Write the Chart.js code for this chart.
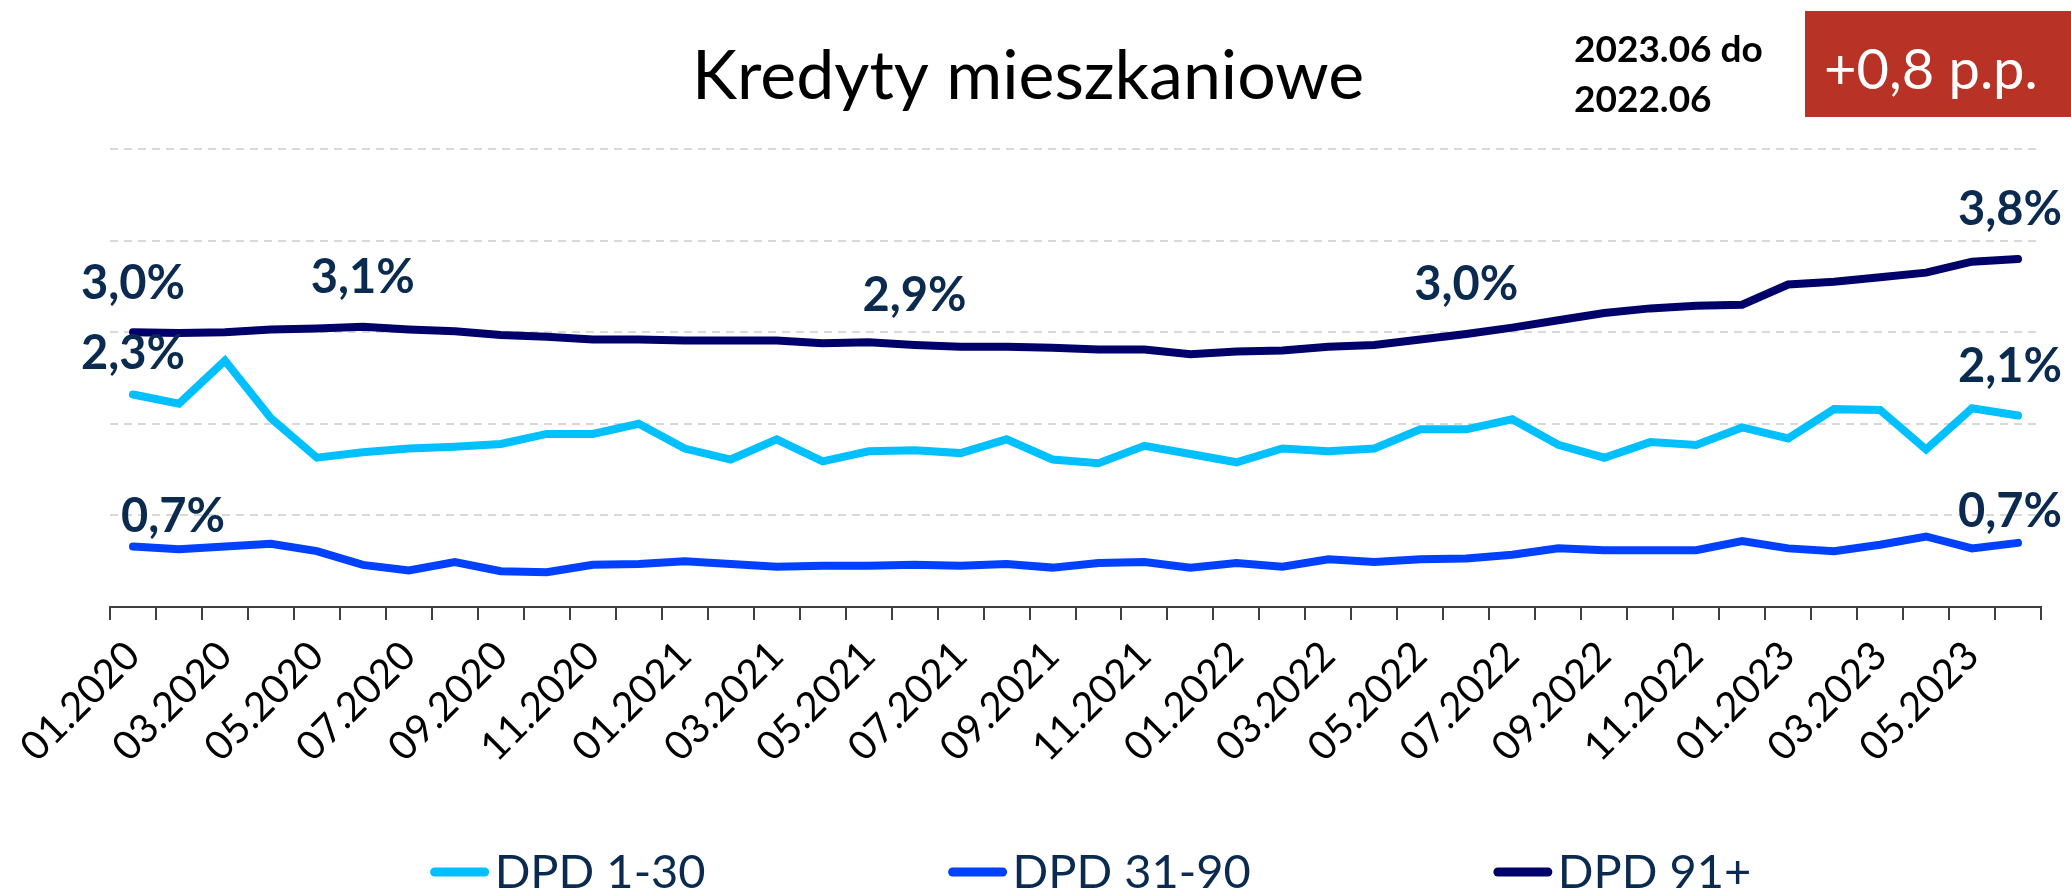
<!DOCTYPE html>
<html lang="pl">
<head>
<meta charset="utf-8">
<title>Kredyty mieszkaniowe</title>
<script src="https://cdn.jsdelivr.net/npm/chart.js@4.4.1/dist/chart.umd.min.js"></script>
<style>
  html, body { margin: 0; padding: 0; background: #ffffff; }
  canvas { display: block; }
</style>
</head>
<body>
<canvas id="chart" width="2071" height="893"></canvas>
<script>
// Monthly categories (x axis)
const months = [
  '01.2020','02.2020','03.2020','04.2020','05.2020','06.2020','07.2020','08.2020','09.2020','10.2020','11.2020','12.2020',
  '01.2021','02.2021','03.2021','04.2021','05.2021','06.2021','07.2021','08.2021','09.2021','10.2021','11.2021','12.2021',
  '01.2022','02.2022','03.2022','04.2022','05.2022','06.2022','07.2022','08.2022','09.2022','10.2022','11.2022','12.2022',
  '01.2023','02.2023','03.2023','04.2023','05.2023','06.2023'
];

// Share of loans by days past due, in %
const dpd1to30 = [
  2.32, 2.22, 2.69, 2.06, 1.63, 1.69, 1.73, 1.75, 1.78, 1.89, 1.89, 2.00,
  1.73, 1.61, 1.83, 1.59, 1.70, 1.71, 1.68, 1.83, 1.61, 1.57, 1.76, 1.67,
  1.58, 1.73, 1.70, 1.73, 1.94, 1.94, 2.05, 1.77, 1.63, 1.80, 1.77, 1.96,
  1.84, 2.16, 2.15, 1.72, 2.17, 2.09
];
const dpd31to90 = [
  0.66, 0.63, 0.66, 0.69, 0.61, 0.46, 0.40, 0.49, 0.39, 0.38, 0.46, 0.47,
  0.50, 0.47, 0.44, 0.45, 0.45, 0.46, 0.45, 0.47, 0.43, 0.48, 0.49, 0.43,
  0.48, 0.44, 0.52, 0.49, 0.52, 0.53, 0.57, 0.64, 0.62, 0.62, 0.62, 0.72,
  0.64, 0.61, 0.68, 0.77, 0.64, 0.70
];
const dpd91plus = [
  3.00, 2.99, 3.00, 3.03, 3.04, 3.06, 3.03, 3.01, 2.97, 2.95, 2.92, 2.92,
  2.91, 2.91, 2.91, 2.88, 2.89, 2.86, 2.84, 2.84, 2.83, 2.81, 2.81, 2.76,
  2.79, 2.80, 2.84, 2.86, 2.92, 2.98, 3.05, 3.13, 3.21, 3.26, 3.29, 3.30,
  3.52, 3.55, 3.60, 3.65, 3.77, 3.80
];

const seriesNames = ['DPD 1-30', 'DPD 31-90', 'DPD 91+'];
const chartTitle = 'Kredyty mieszkaniowe';
const periodLines = ['2023.06 do', '2022.06'];
const compareFrom = '2022.06';
const compareTo = '2023.06';

const COLORS = {
  light: '#00c0ff',
  blue: '#0040ff',
  navy: '#00006a',
  label: '#0b2a50',
  grid: '#d9d9d9',
  axis: '#3f3f3f',
  badge: '#b83226'
};
const FONT = 'Lato, "Open Sans", "DejaVu Sans", sans-serif';

const fmtPct = v => v.toFixed(1).replace('.', ',') + '%';

// Value labels: dataset index, point index, offset of text centre from the point
const valueLabels = [
  { ds: 2, i: 0,  dx: 0,  dy: -48 },
  { ds: 2, i: 5,  dx: 0,  dy: -49 },
  { ds: 2, i: 17, dx: 0,  dy: -49 },
  { ds: 2, i: 29, dx: 0,  dy: -49 },
  { ds: 2, i: 41, dx: -8, dy: -49 },
  { ds: 0, i: 0,  dx: 0,  dy: -41 },
  { ds: 0, i: 41, dx: -8, dy: -49 },
  { ds: 1, i: 0,  dx: 40, dy: -30 },
  { ds: 1, i: 41, dx: -8, dy: -31 }
];

const decorPlugin = {
  id: 'decor',
  afterDatasetsDraw(chart) {
    const ctx = chart.ctx;
    ctx.save();
    ctx.font = 'bold 47px ' + FONT;
    ctx.fillStyle = COLORS.label;
    ctx.textAlign = 'center';
    ctx.textBaseline = 'middle';
    valueLabels.forEach(l => {
      const pt = chart.getDatasetMeta(l.ds).data[l.i];
      const v = chart.data.datasets[l.ds].data[l.i];
      ctx.fillText(fmtPct(v), pt.x + l.dx, pt.y + l.dy);
    });
    ctx.restore();
  },
  afterDraw(chart) {
    const ctx = chart.ctx;
    ctx.save();

    // Title
    ctx.fillStyle = '#000000';
    ctx.textAlign = 'center';
    ctx.textBaseline = 'alphabetic';
    ctx.font = '68px ' + FONT;
    ctx.fillText(chartTitle, 1028, 99);

    // Comparison period
    ctx.textAlign = 'left';
    ctx.font = 'bold 37px ' + FONT;
    ctx.fillText(periodLines[0], 1574, 62);
    ctx.fillText(periodLines[1], 1574, 112);

    // Change badge, computed from the DPD 91+ series
    const iFrom = months.indexOf(compareFrom.split('.').reverse().join('.'));
    const iTo = months.indexOf(compareTo.split('.').reverse().join('.'));
    const diff = dpd91plus[iTo] - dpd91plus[iFrom];
    ctx.fillStyle = COLORS.badge;
    ctx.fillRect(1805, 11, 2071 - 1805, 106);
    ctx.fillStyle = '#ffffff';
    ctx.font = '56px ' + FONT;
    ctx.fillText((diff >= 0 ? '+' : '') + diff.toFixed(1).replace('.', ',') + ' p.p.', 1824, 89);

    // Legend
    ctx.font = '47px ' + FONT;
    const lineW = 58, gapText = 6, gapItem = 243;
    const items = chart.data.datasets.map(ds => ({
      text: ds.label,
      color: ds.borderColor,
      w: lineW + gapText + ctx.measureText(ds.label).width
    }));
    const total = items.reduce((s, it) => s + it.w, 0) + gapItem * (items.length - 1);
    let x = 1091 - total / 2;
    const ly = 872;
    items.forEach(it => {
      ctx.strokeStyle = it.color;
      ctx.lineWidth = 9;
      ctx.lineCap = 'round';
      ctx.beginPath();
      ctx.moveTo(x + 4, ly);
      ctx.lineTo(x + lineW - 4, ly);
      ctx.stroke();
      ctx.fillStyle = COLORS.label;
      ctx.textBaseline = 'alphabetic';
      ctx.fillText(it.text, x + lineW + gapText, 888);
      x += it.w + gapItem;
    });

    ctx.restore();
  }
};

const lineStyle = {
  borderWidth: 8,
  pointRadius: 0,
  pointHoverRadius: 0,
  tension: 0,
  fill: false,
  borderCapStyle: 'round',
  borderJoinStyle: 'miter'
};

new Chart(document.getElementById('chart'), {
  type: 'line',
  data: {
    labels: months,
    datasets: [
      Object.assign({ label: seriesNames[0], data: dpd1to30, borderColor: COLORS.light, backgroundColor: COLORS.light }, lineStyle),
      Object.assign({ label: seriesNames[1], data: dpd31to90, borderColor: COLORS.blue, backgroundColor: COLORS.blue }, lineStyle),
      Object.assign({ label: seriesNames[2], data: dpd91plus, borderColor: COLORS.navy, backgroundColor: COLORS.navy }, lineStyle)
    ]
  },
  options: {
    responsive: false,
    animation: false,
    events: [],
    layout: { padding: { top: 149, right: 30, left: 0, bottom: 0 } },
    plugins: {
      legend: { display: false },
      title: { display: false },
      tooltip: { enabled: false }
    },
    scales: {
      x: {
        offset: true,
        grid: {
          offset: true,
          drawOnChartArea: false,
          drawTicks: true,
          tickLength: 13,
          color: COLORS.axis,
          lineWidth: 2
        },
        border: { display: true, color: COLORS.axis, width: 2 },
        ticks: {
          autoSkip: false,
          maxRotation: 45,
          minRotation: 45,
          padding: 12,
          color: '#000000',
          font: { family: FONT, size: 40 },
          callback: function (value, index) {
            return index % 2 === 0 ? this.getLabelForValue(value) : '';
          }
        },
        afterFit: scale => { scale.height = 286; }
      },
      y: {
        min: 0,
        max: 5,
        ticks: { display: false, stepSize: 1 },
        grid: { color: COLORS.grid, lineWidth: 2, drawTicks: false },
        border: { display: false, dash: [8, 6] },
        afterFit: scale => { scale.width = 110; }
      }
    }
  },
  plugins: [decorPlugin]
});
</script>
</body>
</html>
